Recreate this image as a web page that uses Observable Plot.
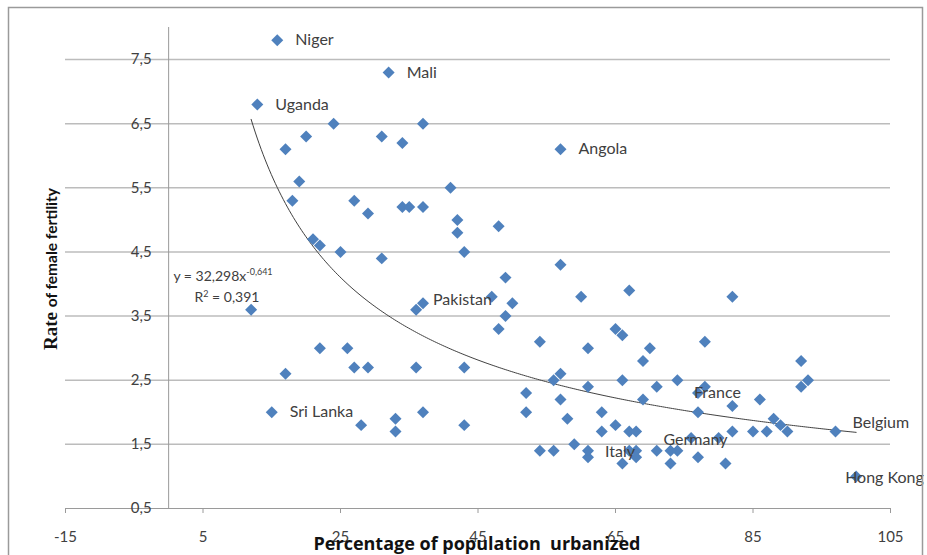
<!DOCTYPE html>
<html><head><meta charset="utf-8">
<script src="https://cdn.jsdelivr.net/npm/d3@7"></script>
<script src="https://cdn.jsdelivr.net/npm/@observablehq/plot@0.6"></script>
<style>
body{margin:0;background:#fff;}
#chart{position:relative;width:927px;height:555px;overflow:hidden;}
</style></head><body><div id="chart"></div>
<script>
// ---- data ----
const labelNames = ["Niger","Mali","Uganda","Angola","Pakistan","Sri Lanka","France","Germany","Italy","Belgium","Hong Kong"];
const labelX     = [15.8, 32, 12.9, 57, 37, 15, 77, 73, 61, 97, 100];
const labelY     = [7.8, 7.3, 6.8, 6.1, 3.7, 2.0, 2.3, 1.4, 1.4, 1.7, 1.0];

const otherX = [24,20,17,31,34,37, 19,18,27,29,34,35,37, 21,22,25,31,
  41,42,42,48,43,57,49,47,50,49,48,60,65,66,54,36,
  12, 22,26,27,29,36,43,17,
  56,57,61,52,57,52,58,63,63,65,59,54,56,61,66,
  37,33,33,28,43,
  67,61,70,69,66,74,71,69,67,68,67,68,68,71,74,73,
  78,82,92,92,93,78,86,82,77,88,89,90,82,85,87,76,80,77,81];
const otherY = [6.5,6.3,6.1,6.3,6.2,6.5, 5.6,5.3,5.3,5.1,5.2,5.2,5.2, 4.7,4.6,4.5,4.4,
  5.5,5.0,4.8,4.9,4.5,4.3,4.1,3.8,3.7,3.5,3.3,3.8,3.3,3.2,3.1,3.6,
  3.6, 3.0,3.0,2.7,2.7,2.7,2.7,2.6,
  2.5,2.6,2.4,2.3,2.2,2.0,1.9,2.0,1.7,1.8,1.5,1.4,1.4,1.3,1.2,
  2.0,1.9,1.7,1.8,1.8,
  3.9,3.0,3.0,2.8,2.5,2.5,2.4,2.2,1.7,1.7,1.4,1.4,1.3,1.4,1.4,1.2,
  3.1,3.8,2.8,2.4,2.5,2.4,2.2,2.1,2.0,1.9,1.8,1.7,1.7,1.7,1.7,1.6,1.6,1.3,1.2];

const xTicks = [-15, 5, 25, 45, 65, 85, 105];
const yTicks = [0.5, 1.5, 2.5, 3.5, 4.5, 5.5, 6.5, 7.5];
const fitA = 32.298, fitB = -0.641, fitR2 = 0.391;

// ---- build ----
const labeled = labelNames.map((name, i) => ({name, x: labelX[i], y: labelY[i]}));
const points = otherX.map((x, i) => ({x, y: otherY[i]})).concat(labeled);
const xmin = d3.min(points, d => d.x), xmax = d3.max(points, d => d.x);
const curve = d3.range(0, 301).map(i => {
  const x = xmin + (xmax - xmin) * i / 300;
  return {x, y: fitA * Math.pow(x, fitB)};
});
const comma = d => String(d).replace(".", ",");

const labelStyle = {
  default: {dx: 18, dy: 0, anchor: "start"},
  Pakistan: {dx: 10, dy: -3, anchor: "start"},
  France: {dx: -4, dy: 0, anchor: "start"},
  Germany: {dx: -7, dy: -11, anchor: "start"},
  Italy: {dx: 17, dy: 1, anchor: "start"},
  Belgium: {dx: 17, dy: -9, anchor: "start"},
  "Hong Kong": {dx: -11, dy: 1, anchor: "start"}
};
const labelMarks = labeled.map(d => {
  const s = labelStyle[d.name] || labelStyle.default;
  return Plot.text([d], {x: "x", y: "y", text: "name", dx: s.dx, dy: s.dy,
    textAnchor: s.anchor, fill: "#404040", fontSize: 16});
});

const plot = Plot.plot({
  width: 927, height: 555,
  marginLeft: 65, marginRight: 37, marginTop: 27, marginBottom: 47,
  x: {domain: [-15, 105]},
  y: {domain: [0.5, 8], axis: null},
  style: {fontFamily: "Lato, 'Open Sans', sans-serif", fontSize: "15px", color: "#404040", background: "transparent", overflow: "visible"},
  marks: [
    Plot.ruleY(yTicks.filter(d => d > 0.5), {y: d => d, x1: -15, x2: 105, stroke: "#bcbcbc", strokeWidth: 1.5}),
    Plot.ruleX([0], {x: d => d, y1: 0.5, y2: 8, stroke: "#9a9a9a", strokeWidth: 1}),
    Plot.ruleY([0.5], {y: d => d, x1: -15, x2: 105, stroke: "#9a9a9a", strokeWidth: 1.2}),
    Plot.axisX({ticks: xTicks, tickSize: 5, tickPadding: 18, tickFormat: d => String(d), stroke: "#9a9a9a", label: null, fontSize: 15, fill: "#404040"}),
    Plot.text(yTicks, {x: () => 0, y: d => d, text: comma, dx: -17, textAnchor: "end", fill: "#404040", fontSize: 15}),
    Plot.line(curve, {x: "x", y: "y", stroke: "#404040", strokeWidth: 1}),
    Plot.dot(points, {x: "x", y: "y", symbol: "diamond2", r: 5.4, fill: "#4f81bd", stroke: "none"}),
    ...labelMarks
  ]
});
document.getElementById("chart").appendChild(plot);

// ---- annotations ----
const svg = d3.select(plot);
svg.append("rect").attr("x", 8.5).attr("y", 7.5).attr("width", 914).attr("height", 600)
  .attr("fill", "none").attr("stroke", "#9a9a9a").attr("stroke-width", 1.5);

const yt = svg.append("text").attr("transform", "translate(57,350) rotate(-90)")
  .attr("text-anchor", "start").attr("fill", "#111").attr("font-weight", "bold");
yt.append("tspan").attr("font-family", "'Liberation Serif', 'DejaVu Serif', serif").attr("font-size", 19).text("Rate ");
yt.append("tspan").attr("font-family", "Lato, sans-serif").attr("font-size", 15.5).text("of female fertility");

svg.append("text").attr("x", 477).attr("y", 550).attr("text-anchor", "middle")
  .attr("font-family", "'Open Sans', Lato, sans-serif").attr("font-weight", "bold").attr("font-size", 18)
  .attr("fill", "#111").attr("xml:space", "preserve").text("Percentage of population  urbanized");

const eq = svg.append("text").attr("x", 223).attr("y", 281).attr("text-anchor", "middle")
  .attr("font-family", "Lato, sans-serif").attr("font-size", 14).attr("fill", "#404040");
eq.append("tspan").text("y = " + comma(fitA) + "x");
eq.append("tspan").attr("dy", -6).attr("font-size", 9).text(comma(fitB));
const r2 = svg.append("text").attr("x", 227).attr("y", 302).attr("text-anchor", "middle")
  .attr("font-family", "Lato, sans-serif").attr("font-size", 14).attr("fill", "#404040");
r2.append("tspan").text("R");
r2.append("tspan").attr("dy", -5).attr("font-size", 9).text("2");
r2.append("tspan").attr("dy", 5).text(" = " + comma(fitR2));
</script></body></html>
